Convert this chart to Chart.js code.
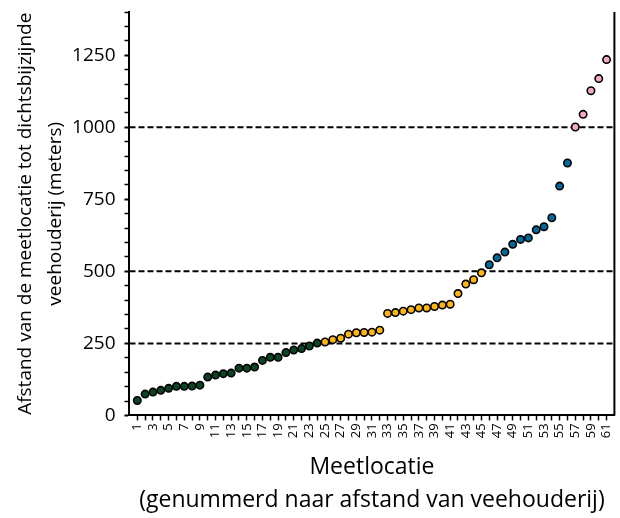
<!DOCTYPE html>
<html>
<head>
<meta charset="utf-8">
<script src="https://cdn.jsdelivr.net/npm/chart.js@4"></script>
<style>
  html, body { margin: 0; padding: 0; background: #fff; }
  #wrap { width: 620px; height: 518px; }
</style>
</head>
<body>
<div id="wrap"><canvas id="GRAFIEK"></canvas></div>
<script>
// meetlocaties, gesorteerd op afstand
const locaties = [1, 2, 3, 4, 5, 6, 7, 8, 9, 10, 11, 12, 13, 14, 15, 16, 17, 18, 19, 20,
  21, 22, 23, 24, 25, 26, 27, 28, 29, 30, 31, 32, 33, 34, 35, 36, 37, 38, 39, 40,
  41, 42, 43, 44, 45, 46, 47, 48, 49, 50, 51, 52, 53, 54, 55, 56, 57, 58, 59, 60, 61];

// afstand tot dichtsbijzijnde veehouderij (meters)
const afstanden = [52, 74, 81, 87, 94, 101, 101, 102, 105, 133, 140, 145, 147, 164, 164, 168, 191, 202, 202, 218,
  227, 232, 241, 251, 255, 263, 268, 282, 287, 288, 289, 296, 354, 357, 362, 367, 373, 373, 378, 383,
  386, 423, 456, 471, 495, 523, 547, 567, 594, 611, 616, 644, 655, 686, 796, 876, 1001, 1045, 1127, 1169, 1235];

// laatste locatie van elke kleurgroep
const groepEinde = [24, 45, 56, 61];
const groepKleuren = ['#0a4526', '#ffb612', '#01689b', '#f4a9c9'];

// gestippelde grenslijnen
const grenzen = [250, 500, 1000];

const xMin = 0, xMax = 62;

const datasets = [];
let start = 0;
groepEinde.forEach((eind, g) => {
  const punten = [];
  for (let i = start; i < eind; i++) punten.push({ x: locaties[i], y: afstanden[i] });
  datasets.push({
    data: punten,
    backgroundColor: groepKleuren[g],
    borderColor: '#000',
    borderWidth: 1.6,
    pointRadius: 3.7,
    order: 1
  });
  start = eind;
});

grenzen.forEach(t => {
  datasets.push({
    type: 'line',
    data: [{ x: xMin, y: t }, { x: xMax, y: t }],
    borderColor: '#000',
    borderWidth: 2,
    borderDash: [6, 3],
    pointRadius: 0,
    order: 2
  });
});

// rechter as-lijn
const rechterAs = {
  id: 'rechterAs',
  afterDraw(chart) {
    const { ctx, chartArea } = chart;
    ctx.save();
    ctx.strokeStyle = '#000';
    ctx.lineWidth = 2;
    ctx.beginPath();
    ctx.moveTo(chartArea.right, chartArea.top);
    ctx.lineTo(chartArea.right, chartArea.bottom);
    ctx.stroke();
    ctx.restore();
  }
};

const ctx = document.getElementById('GRAFIEK');
const fam = '"Open Sans", "Noto Sans", sans-serif';

new Chart(ctx, {
  type: 'scatter',
  data: { datasets: datasets },
  plugins: [rechterAs],
  options: {
    responsive: true,
    maintainAspectRatio: false,
    animation: false,
    layout: { padding: 0 },
    plugins: { legend: { display: false }, tooltip: { enabled: false } },
    scales: {
      x: {
        type: 'linear',
        min: xMin,
        max: xMax,
        afterBuildTicks: (axis) => { axis.ticks = locaties.map(v => ({ value: v })); },
        ticks: {
          autoSkip: false,
          maxRotation: 90,
          minRotation: 90,
          padding: 3,
          color: '#000',
          font: { family: fam, size: 13, lineHeight: 0.62 },
          callback: (v) => (v % 2 === 1 ? String(v) : '')
        },
        grid: { drawOnChartArea: false, tickLength: 5, tickColor: '#000', tickWidth: 1.5 },
        border: { display: true, color: '#000', width: 2 },
        title: {
          display: true,
          text: ['Meetlocatie', '(genummerd naar afstand van veehouderij)'],
          color: '#000',
          font: { family: fam, size: 23, lineHeight: 1.45 },
          padding: { top: 9, bottom: 1 }
        }
      },
      y: {
        min: 0,
        max: 1400,
        ticks: {
          stepSize: 50,
          autoSkip: false,
          color: '#000',
          padding: 9,
          font: { family: fam, size: 19, lineHeight: 0.32 },
          callback: (v) => (v % 250 === 0 ? String(v) : '')
        },
        grid: {
          drawOnChartArea: false,
          tickLength: 5,
          tickColor: '#000',
          tickWidth: (c) => (c.tick && c.tick.value % 250 === 0 ? 2 : 1.5)
        },
        border: { display: true, color: '#000', width: 2 },
        title: {
          display: true,
          text: ['Afstand van de meetlocatie tot dichtsbijzijnde', 'veehouderij (meters)'],
          color: '#000',
          font: { family: fam, size: 19, lineHeight: 1.58 },
          padding: { top: 11, bottom: -8 }
        }
      }
    }
  }
});
</script>
</body>
</html>
